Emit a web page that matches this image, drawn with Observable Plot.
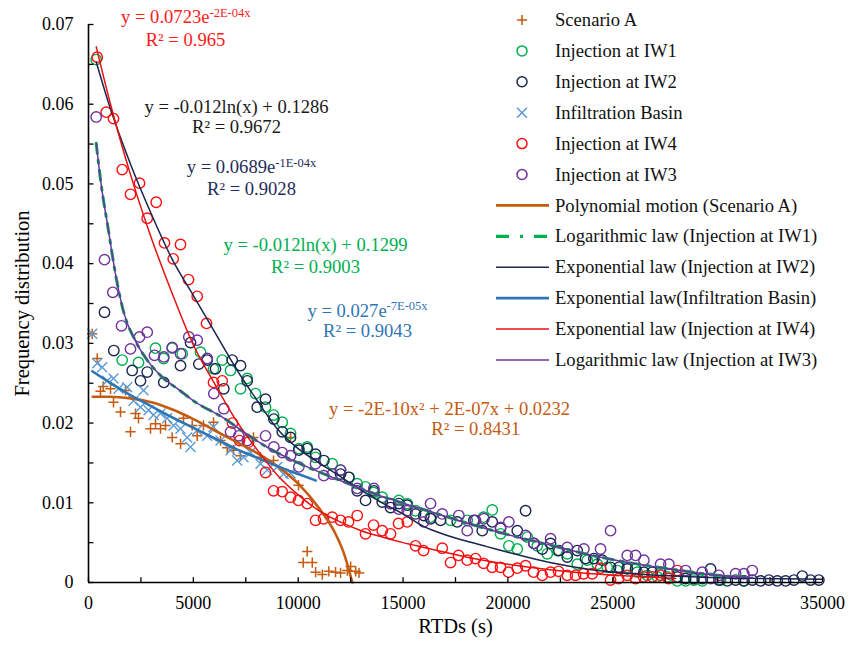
<!DOCTYPE html>
<html>
<head>
<meta charset="utf-8">
<script src="https://cdn.jsdelivr.net/npm/d3@7"></script>
<script src="https://cdn.jsdelivr.net/npm/@observablehq/plot@0.6"></script>
<style>
  html, body { margin: 0; padding: 0; background: #fff; }
  #chart svg { display: block; }
  #chart svg, #chart svg text, #chart svg tspan { font-family: 'Liberation Serif', 'Times New Roman', serif !important; }
</style>
</head>
<body>
<div id="chart"></div>
<script>
// ---------------- data ----------------
const scenarioA = [[176,.0312],[415,.0281],[572,.0240],[700,.0246],[1049,.0243],[1192,.0226],[1526,.0214],[1765,.0241],[2003,.0189],[2241,.0212],[2385,.0206],[2957,.0193],[3195,.0199],[3434,.0193],[3672,.0197],[3992,.0182],[4391,.0174],[4531,.0206],[4945,.0197],[5184,.0184],[5484,.0197],[5961,.0201],[6295,.0178],[6615,.0169],[6915,.0166],[7249,.0159],[7869,.0182],[8203,.0157],[8823,.0153],[9634,.0182],[10015,.0122],[10240,.0025],[10430,.0039],[10670,.0025],[10830,.0013],[11150,.0010],[11460,.0014],[11780,.0013],[12020,.0012],[12340,.0015],[12500,.0020],[12740,.0014],[12900,.0012]];

const iw1 = [[367,.0656],[1607,.0279],[2385,.0276],[3195,.0294],[3577,.0281],[3992,.0294],[4469,.0287],[5341,.0289],[5961,.0268],[6376,.0279],[6772,.0266],[7249,.0243],[7568,.0256],[7964,.0237],[8441,.0220],[8823,.0210],[9238,.0201],[9634,.0187],[10029,.0168],[10430,.0170],[10826,.0157],[11622,.0149],[12018,.0141],[12414,.0132],[12814,.0124],[13210,.0120],[13592,.0113],[14006,.0107],[14402,.0099],[14798,.0103],[15199,.0099],[15595,.0090],[16310,.0082],[17264,.0078],[18061,.0078],[18838,.0082],[19253,.0091],[19649,.0061],[20044,.0046],[20445,.0042],[20922,.0057],[21399,.0046],[21876,.0036],[22353,.0040],[22829,.0036],[23306,.0023],[23783,.0028],[24260,.0023],[24737,.0019],[25214,.0015],[25691,.0019],[26167,.0013],[26644,.0009],[27121,.0007],[27598,.0007],[28075,.0002],[28471,.0002],[28867,.0003],[29268,.0002],[30141,.0003],[31252,.0002]];

const iw2 = [[763,.0339],[1207,.0291],[2084,.0266],[2480,.0253],[2799,.0264],[3591,.0251],[4387,.0272],[4864,.0301],[5260,.0274],[5661,.0279],[6057,.0268],[6452,.0243],[6853,.0279],[7249,.0272],[7568,.0253],[8045,.0220],[8441,.0230],[8837,.0205],[9238,.0189],[9634,.0182],[10029,.0166],[10430,.0168],[10826,.0161],[11221,.0153],[12018,.0136],[12414,.0132],[12814,.0115],[13210,.0103],[13606,.0115],[14006,.0101],[14402,.0094],[14798,.0099],[15199,.0097],[15595,.0086],[15991,.0084],[16310,.0080],[16787,.0078],[17583,.0076],[18375,.0078],[18776,.0065],[19253,.0076],[19649,.0068],[20445,.0065],[20841,.0090],[21237,.0049],[21637,.0042],[22033,.0049],[22429,.0040],[22829,.0032],[23306,.0040],[23702,.0030],[24098,.0030],[24499,.0028],[24894,.0019],[25290,.0019],[25691,.0017],[26086,.0017],[26482,.0013],[26883,.0013],[27279,.0013],[27675,.0011],[28075,.0007],[28471,.0005],[28867,.0005],[29268,.0005],[29664,.0017],[30060,.0003],[30460,.0002],[30856,.0003],[31252,.0002],[31652,.0003],[32048,.0002],[32444,.0003],[32844,.0002],[33240,.0002],[33636,.0003],[34036,.0008],[34432,.0003],[34828,.0003]];

const basin = [[176,.0312],[415,.0275],[653,.0270],[892,.0253],[1192,.0256],[1431,.0243],[1846,.0245],[2146,.0228],[2480,.0220],[2623,.0241],[2861,.0216],[3100,.0210],[3434,.0212],[3753,.0206],[4054,.0197],[4387,.0193],[4707,.0182],[4864,.0170],[5184,.0191],[5661,.0184],[5961,.0195],[6295,.0178],[6772,.0166],[7092,.0153],[7392,.0157],[7726,.0163],[8203,.0149],[8522,.0141],[8999,.0145],[9300,.0136],[9634,.0137]];

const iw4 = [[415,.0659],[844,.0590],[1192,.0582],[1607,.0518],[2432,.0501],[2003,.0487],[3229,.0477],[2799,.0457],[3624,.0426],[4387,.0424],[4039,.0406],[4769,.0380],[5184,.0359],[5627,.0325],[6376,.0253],[5961,.0251],[6867,.0200],[7201,.0178],[7630,.0176],[8441,.0138],[8823,.0115],[9238,.0114],[9634,.0107],[10015,.0103],[10430,.0099],[10826,.0078],[11207,.0080],[11622,.0082],[12018,.0078],[12399,.0076],[12814,.0084],[13210,.0061],[13592,.0072],[14006,.0065],[14402,.0061],[14784,.0074],[15199,.0076],[15595,.0046],[15976,.0040],[16868,.0043],[17264,.0025],[17646,.0034],[18061,.0028],[18457,.0030],[18838,.0024],[19253,.0019],[19649,.0019],[20030,.0013],[20445,.0018],[20841,.0021],[21222,.0013],[21637,.0009],[22033,.0013],[22414,.0014],[22829,.0009],[23225,.0009],[23607,.0011],[24022,.0011],[24417,.0018],[24894,.0003],[25276,.0005],[25691,.0009],[26086,.0005],[26468,.0007],[26883,.0007],[27279,.0009],[27660,.0005],[28075,.0015]];

const iw3 = [[367,.0584],[763,.0405],[1159,.0364],[1574,.0322],[2003,.0293],[2432,.0308],[2799,.0314],[3148,.0285],[3591,.0283],[3992,.0295],[4387,.0287],[4783,.0308],[5184,.0304],[5661,.0281],[5976,.0237],[6452,.0218],[6772,.0189],[7168,.0184],[7568,.0178],[8441,.0184],[8837,.0170],[9238,.0163],[9634,.0159],[10029,.0145],[10826,.0149],[11221,.0134],[11622,.0136],[12018,.0141],[12814,.0118],[13606,.0118],[14402,.0099],[14798,.0092],[15199,.0090],[15991,.0076],[16310,.0099],[16868,.0086],[17660,.0084],[18061,.0065],[18457,.0078],[18853,.0080],[19649,.0069],[20044,.0076],[20841,.0059],[21237,.0049],[22033,.0055],[22829,.0044],[23621,.0042],[24417,.0042],[24894,.0065],[25691,.0034],[26086,.0034],[26482,.0028],[27279,.0023],[27675,.0023],[28471,.0015],[29268,.0013],[29664,.0005],[30060,.0009],[30856,.0011],[31252,.0011],[31652,.0015]];

// fitted trend lines
const fitPolyA = [[200,.0233],[1000,.0233],[2000,.0231],[3000,.0226],[4000,.0217],[5000,.0205],[6000,.0191],[7000,.0177],[8000,.0163],[9000,.0146],[10000,.0124],[11000,.0093],[11700,.0065],[12200,.0035],[12580,.0000]];
const fitLogIW1 = [[367,.0551],[600,.0500],[950,.0442],[1300,.0385],[1700,.0337],[2200,.0305],[2800,.0279],[3500,.0258],[4400,.0240],[5000,.0228],[6400,.0207],[7500,.0187],[8500,.0170],[10000,.0150],[12000,.0128],[14000,.0108],[16300,.0089],[18000,.0075],[20000,.0060],[22000,.0047],[24000,.0034],[26000,.0024],[28000,.0016],[30000,.0009],[31650,.0006]];
const fitExpIW2 = [[370,.0653],[1000,.0598],[2000,.0525],[3000,.0462],[4000,.0405],[5000,.0360],[6000,.0315],[7000,.0270],[8000,.0230],[9000,.0193],[10000,.0168],[11000,.0150],[12000,.0133],[13000,.0116],[14000,.0100],[15000,.0086],[16000,.0070],[17000,.0060],[18000,.0052],[19000,.0045],[20000,.0038],[22000,.0025],[24000,.0016],[26000,.0011],[28000,.0008],[30000,.0006],[32000,.0005],[35000,.0004]];
const fitExpBasin = [[180,.0265],[1000,.0251],[2000,.0235],[3000,.0221],[4000,.0207],[5000,.0194],[6000,.0181],[7000,.0168],[8000,.0157],[9000,.0146],[10000,.0136],[10830,.0128]];
const fitExpIW4 = [[370,.0672],[1000,.0605],[2000,.0512],[3000,.0432],[4000,.0362],[5000,.0298],[6000,.0250],[7000,.0205],[8000,.0168],[9000,.0135],[10000,.0110],[11000,.0090],[12000,.0076],[13000,.0065],[14000,.0057],[15000,.0050],[16000,.0044],[17000,.0038],[18000,.0032],[20000,.0023],[22000,.0016],[24000,.0011],[26000,.0008],[28000,.0005]];
const fitLogIW3 = [[367,.0551],[600,.0500],[950,.0442],[1300,.0385],[1700,.0337],[2200,.0305],[2800,.0279],[3500,.0258],[4400,.0240],[5000,.0228],[6400,.0207],[7500,.0187],[8500,.0170],[10000,.0150],[12000,.0128],[14000,.0108],[16300,.0089],[18000,.0075],[20000,.0060],[22000,.0047],[24000,.0034],[26000,.0024],[28000,.0016],[30000,.0009],[31650,.0006]];

// axis ticks
const xTickLabels = [0, 5000, 10000, 15000, 20000, 25000, 30000, 35000];
const xTickMarks = [0, 2500, 5000, 7500, 10000, 12500, 15000, 17500, 20000, 22500, 25000, 27500, 30000, 32500, 35000];
const yTickLabels = [0, 0.01, 0.02, 0.03, 0.04, 0.05, 0.06, 0.07];
const yTickMarks = [0, 0.005, 0.01, 0.015, 0.02, 0.025, 0.03, 0.035, 0.04, 0.045, 0.05, 0.055, 0.06, 0.065, 0.07];

// equation annotations (text, anchor position in data units)
const equations = [
  {text: "y = 0.0723e^-2E-04x", x: 4637, y: 0.0709, color: "#ff1a1a"},
  {text: "R² = 0.965", x: 4625, y: 0.0680, color: "#ff1a1a"},
  {text: "y = -0.012ln(x) + 0.1286", x: 7058, y: 0.0597, color: "#1a1a1a"},
  {text: "R² = 0.9672", x: 7058, y: 0.0571, color: "#1a1a1a"},
  {text: "y = 0.0689e^-1E-04x", x: 7773, y: 0.0521, color: "#1f2d5a"},
  {text: "R² = 0.9028", x: 7773, y: 0.0494, color: "#1f2d5a"},
  {text: "y = -0.012ln(x) + 0.1299", x: 10825, y: 0.0423, color: "#00b050"},
  {text: "R² = 0.9003", x: 10825, y: 0.0396, color: "#00b050"},
  {text: "y = 0.027e^-7E-05x", x: 13305, y: 0.0341, color: "#2e75b6"},
  {text: "R² = 0.9043", x: 13305, y: 0.0315, color: "#2e75b6"},
  {text: "y = -2E-10x² + 2E-07x + 0.0232", x: 17216, y: 0.0218, color: "#c55a11"},
  {text: "R² = 0.8431", x: 18465, y: 0.0193, color: "#c55a11"}
];

// colours
const C = {
  orange: "#c55a11", green: "#00b050", navy: "#1a2550", xblue: "#5b9bd5",
  blue: "#2e75b6", red: "#ff1010", redLine: "#e81010", purple: "#7030a0"
};

const px = d => d[0], py = d => d[1];
const font = "'Liberation Serif', 'Times New Roman', serif";

const svg = Plot.plot({
  width: 861, height: 645,
  marginLeft: 88, marginRight: 39, marginTop: 24, marginBottom: 63,
  style: {fontFamily: font, fontSize: "18px", color: "#000", background: "#fff", overflow: "visible"},
  x: {domain: [0, 35000], ticks: xTickLabels, tickSize: 0, tickPadding: 14, tickFormat: d => String(d), label: null},
  y: {domain: [0, 0.07], ticks: yTickLabels, tickSize: 0, tickPadding: 15, tickFormat: d => d === 0 ? "0" : d.toFixed(2), label: null},
  marks: [
    // scatter
    Plot.dot(scenarioA, {x: px, y: py, symbol: "plus", r: 3.4, stroke: C.orange, strokeWidth: 1.5}),
    Plot.dot(iw1, {x: px, y: py, r: 5.2, stroke: C.green, strokeWidth: 1.4}),
    Plot.dot(iw2, {x: px, y: py, r: 5.2, stroke: C.navy, strokeWidth: 1.4}),
    Plot.dot(basin, {x: px, y: py, symbol: "times", r: 4.6, stroke: C.xblue, strokeWidth: 1.4}),
    Plot.dot(iw4, {x: px, y: py, r: 5.2, stroke: C.red, strokeWidth: 1.4}),
    Plot.dot(iw3, {x: px, y: py, r: 5.2, stroke: C.purple, strokeWidth: 1.4}),
    // trend lines
    Plot.line(fitPolyA, {x: px, y: py, stroke: C.orange, strokeWidth: 2.6, curve: "monotone-x"}),
    Plot.line(fitLogIW1, {x: px, y: py, stroke: C.green, strokeWidth: 3, strokeDasharray: "10 7 3 7", curve: "monotone-x"}),
    Plot.line(fitExpIW2, {x: px, y: py, stroke: C.navy, strokeWidth: 1.5, curve: "monotone-x"}),
    Plot.line(fitExpBasin, {x: px, y: py, stroke: C.blue, strokeWidth: 2.6, curve: "monotone-x"}),
    Plot.line(fitExpIW4, {x: px, y: py, stroke: C.redLine, strokeWidth: 1.5, curve: "monotone-x"}),
    Plot.line(fitLogIW3, {x: px, y: py, stroke: C.purple, strokeWidth: 1.5, curve: "monotone-x"}),
    // axes lines and inward ticks
    Plot.ruleY([0], {stroke: "#000", strokeWidth: 1.6}),
    Plot.ruleX([0], {stroke: "#000", strokeWidth: 1.6}),
    Plot.ruleX(xTickMarks, {x: d => d, y1: 0, y2: 0.0006, stroke: "#000", strokeWidth: 1.3}),
    Plot.ruleY(yTickMarks, {y: d => d, x1: 0, x2: 260, stroke: "#000", strokeWidth: 1.3}),
    // equations
    Plot.text(equations, {x: "x", y: "y", text: "text", fill: "color", fontSize: 18.6, textAnchor: "middle"}),
    // axis titles
    Plot.text(["RTDs (s)"], {frameAnchor: "bottom", dy: 50, fontSize: 20.5, fill: "#000", textAnchor: "middle"}),
    Plot.text(["Frequency distribution"], {frameAnchor: "left", dx: -66, rotate: -90, fontSize: 20.5, fill: "#000", textAnchor: "middle"})
  ]
});

document.getElementById("chart").append(svg);

// superscripts in equation texts ("^" marks start of the exponent)
svg.querySelectorAll("text").forEach(t => {
  const s = t.textContent;
  if (s.includes("^")) {
    const [a, b] = s.split("^");
    t.textContent = a;
    const ts = document.createElementNS("http://www.w3.org/2000/svg", "tspan");
    ts.setAttribute("dy", "-0.5em");
    ts.setAttribute("font-size", "12.5");
    ts.textContent = b;
    t.appendChild(ts);
  }
});

// legend inside the plot area (top right)
const legendItems = [
  {label: "Scenario A", type: "plus", color: C.orange},
  {label: "Injection at IW1", type: "circle", color: C.green},
  {label: "Injection at IW2", type: "circle", color: C.navy},
  {label: "Infiltration Basin", type: "times", color: C.xblue},
  {label: "Injection at IW4", type: "circle", color: C.red},
  {label: "Injection at IW3", type: "circle", color: C.purple},
  {label: "Polynomial motion (Scenario A)", type: "line", color: C.orange, w: 2.6},
  {label: "Logarithmic law (Injection at IW1)", type: "line", color: C.green, w: 3.2, dash: "13 11 3 11"},
  {label: "Exponential law (Injection at IW2)", type: "line", color: C.navy, w: 1.5},
  {label: "Exponential law(Infiltration Basin)", type: "line", color: C.blue, w: 2.6},
  {label: "Exponential law (Injection at IW4)", type: "line", color: C.redLine, w: 1.5},
  {label: "Logarithmic law (Injection at IW3)", type: "line", color: C.purple, w: 1.5}
];
const lg = d3.select(svg).append("g").attr("font-family", font).attr("font-size", 18.6).attr("text-anchor", "start");
legendItems.forEach((it, i) => {
  const yy = 20 + i * 30.9;
  if (it.type === "line") {
    lg.append("line").attr("x1", 496).attr("x2", 549).attr("y1", yy).attr("y2", yy)
      .attr("stroke", it.color).attr("stroke-width", it.w).attr("stroke-dasharray", it.dash || null);
  } else if (it.type === "circle") {
    lg.append("circle").attr("cx", 522).attr("cy", yy).attr("r", 5).attr("fill", "none")
      .attr("stroke", it.color).attr("stroke-width", 1.5);
  } else {
    const sym = it.type === "plus" ? d3.symbolPlus : d3.symbolTimes;
    const size = it.type === "plus" ? 36 : 66;
    lg.append("path").attr("transform", `translate(522,${yy})`).attr("d", d3.symbol(sym, size)())
      .attr("fill", "none").attr("stroke", it.color).attr("stroke-width", 1.5);
  }
  lg.append("text").attr("x", 555).attr("y", yy).attr("dy", "0.33em").attr("text-anchor", "start").attr("fill", "#111").text(it.label);
});
</script>
</body>
</html>
